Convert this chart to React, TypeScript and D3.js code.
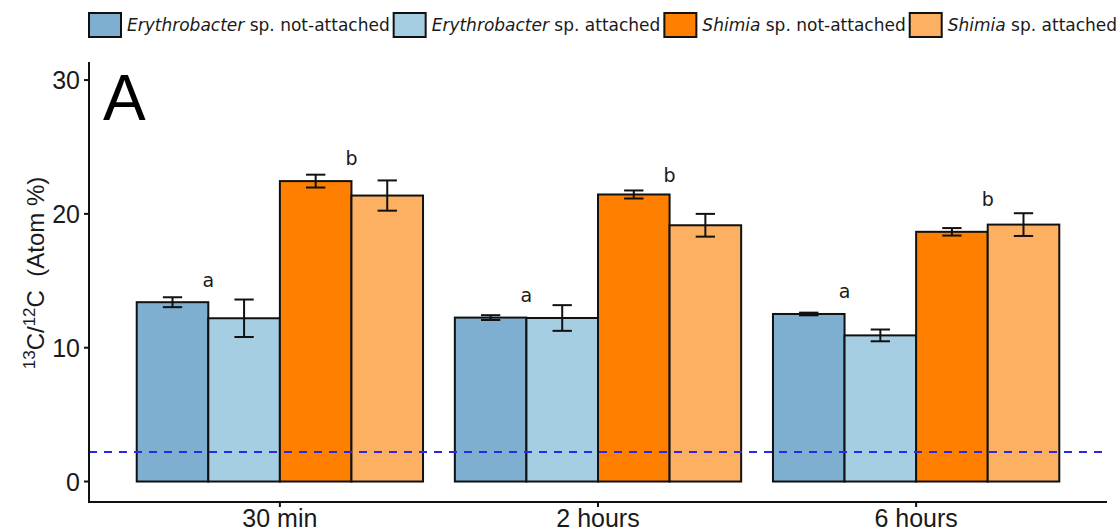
import React from "react";
import * as d3 from "d3";

// Incubation time points (x categories)
const timepoints = ["30 min", "2 hours", "6 hours"];

// Series: genus (italic) + attachment state
const seriesGenus = ["Erythrobacter", "Erythrobacter", "Shimia", "Shimia"];
const seriesState = ["not-attached", "attached", "not-attached", "attached"];
const seriesColors = ["#7FAFD0", "#A6CEE3", "#FF7F00", "#FDB062"];

// 13C/12C atom % means and standard deviations per time point
const eryNotMean = [13.4, 12.25, 12.52];
const eryNotSd = [0.37, 0.18, 0.1];
const eryAttMean = [12.2, 12.22, 10.92];
const eryAttSd = [1.4, 0.96, 0.44];
const shiNotMean = [22.45, 21.45, 18.66];
const shiNotSd = [0.48, 0.3, 0.28];
const shiAttMean = [21.37, 19.15, 19.2];
const shiAttSd = [1.13, 0.85, 0.85];

// Significance letters and the height (atom %) they sit at
const letterA = [14.55, 13.45, 13.7];
const letterB = [23.65, 22.35, 20.6];

// Natural-abundance reference level
const referenceLevel = 2.2;

const yTicks = [0, 10, 20, 30];

const means = [eryNotMean, eryAttMean, shiNotMean, shiAttMean];
const sds = [eryNotSd, eryAttSd, shiNotSd, shiAttSd];

const W = 1120;
const H = 531;
const left = 89;
const right = 1107;
const top = 62;
const bottom = 502;

const sans = "'Liberation Sans', Arial, sans-serif";
const verd = "'DejaVu Sans', Verdana, sans-serif";
const legendSize = 17;

export default function App() {
  const x = d3
    .scaleBand<string>()
    .domain(timepoints)
    .range([left, right])
    .paddingInner(0.1)
    .paddingOuter(0.15);
  const xs = d3
    .scaleBand<number>()
    .domain([0, 1, 2, 3])
    .range([0, x.bandwidth()])
    .padding(0);
  const y = d3.scaleLinear().domain([-1.53, 31.35]).range([bottom, top]);
  const bw = xs.bandwidth();
  const capHalf = bw * 0.135;

  // legend layout from measured text widths
  const canvas = typeof document !== "undefined" ? document.createElement("canvas") : null;
  const ctx = canvas ? canvas.getContext("2d") : null;
  const measure = (txt: string, italic: boolean) => {
    if (!ctx) return txt.length * 9;
    ctx.font = `${italic ? "italic " : ""}${legendSize}px 'DejaVu Sans'`;
    return ctx.measureText(txt).width;
  };
  const legendItems: { bx: number; tx: number; i: number }[] = [];
  let cx = 89;
  seriesGenus.forEach((g, i) => {
    const bx = cx;
    const tx = bx + 32 + 6;
    const wTxt = measure(g, true) + measure(` sp. ${seriesState[i]}`, false);
    legendItems.push({ bx, tx, i });
    cx = tx + wTxt + 4;
  });

  return (
    <svg
      width={W}
      height={H}
      style={{ position: "absolute", left: 0, top: 0, background: "#fff" }}
    >
      {/* legend */}
      {legendItems.map(({ bx, tx, i }) => (
        <g key={`lg${i}`}>
          <rect x={bx} y={13} width={32} height={24} fill={seriesColors[i]} stroke="#111" strokeWidth={2} />
          <text x={tx} y={31} fontFamily={verd} fontSize={legendSize} fill="#1a1a1a">
            <tspan fontStyle="italic">{seriesGenus[i]}</tspan>
            <tspan>{` sp. ${seriesState[i]}`}</tspan>
          </text>
        </g>
      ))}

      {/* bars */}
      {timepoints.map((t, ti) =>
        means.map((m, si) => (
          <rect
            key={`b${ti}-${si}`}
            x={(x(t) as number) + (xs(si) as number)}
            y={y(m[ti])}
            width={bw}
            height={y(0) - y(m[ti])}
            fill={seriesColors[si]}
            stroke="#111"
            strokeWidth={2}
          />
        ))
      )}

      {/* reference level */}
      <line
        x1={left}
        x2={right - 2}
        y1={y(referenceLevel)}
        y2={y(referenceLevel)}
        stroke="#2A2AE6"
        strokeWidth={2}
        strokeDasharray="8,7"
      />

      {/* error bars */}
      {timepoints.map((t, ti) =>
        means.map((m, si) => {
          const c = (x(t) as number) + (xs(si) as number) + bw / 2;
          const lo = y(m[ti] - sds[si][ti]);
          const hi = y(m[ti] + sds[si][ti]);
          return (
            <g key={`e${ti}-${si}`} stroke="#111" strokeWidth={2}>
              <line x1={c} x2={c} y1={lo} y2={hi} />
              <line x1={c - capHalf} x2={c + capHalf} y1={lo} y2={lo} />
              <line x1={c - capHalf} x2={c + capHalf} y1={hi} y2={hi} />
            </g>
          );
        })
      )}

      {/* significance letters */}
      {timepoints.map((t, ti) => (
        <g key={`l${ti}`} fontFamily={verd} fontSize={19} fill="#1a1a1a" textAnchor="middle">
          <text x={(x(t) as number) + (xs(1) as number)} y={y(letterA[ti])}>a</text>
          <text x={(x(t) as number) + (xs(3) as number)} y={y(letterB[ti])}>b</text>
        </g>
      ))}

      {/* axes */}
      <line x1={left} x2={left} y1={top} y2={bottom + 1} stroke="#111" strokeWidth={2} />
      <line x1={left - 1} x2={right} y1={bottom} y2={bottom} stroke="#111" strokeWidth={2} />
      {yTicks.map((v) => (
        <g key={`yt${v}`}>
          <line x1={left - 5} x2={left} y1={y(v)} y2={y(v)} stroke="#111" strokeWidth={2} />
          <text
            x={left - 9}
            y={y(v)}
            dy="0.36em"
            textAnchor="end"
            fontFamily={sans}
            fontSize={25}
            fill="#1a1a1a"
          >
            {v}
          </text>
        </g>
      ))}
      {timepoints.map((t) => {
        const c = (x(t) as number) + x.bandwidth() / 2;
        return (
          <g key={`xt${t}`}>
            <line x1={c} x2={c} y1={bottom} y2={bottom + 5} stroke="#111" strokeWidth={2} />
            <text x={c} y={527} textAnchor="middle" fontFamily={sans} fontSize={25} fill="#1a1a1a">
              {t}
            </text>
          </g>
        );
      })}

      {/* y axis title */}
      <text
        transform="translate(44,273) rotate(-90)"
        textAnchor="middle"
        fontFamily={sans}
        fontSize={24}
        fill="#1a1a1a"
      >
        <tspan fontSize={17} dy={-9}>13</tspan>
        <tspan dy={9}>C/</tspan>
        <tspan fontSize={17} dy={-9}>12</tspan>
        <tspan dy={9}>C</tspan>
        <tspan>{"\u00a0\u00a0(Atom %)"}</tspan>
      </text>

      {/* panel tag */}
      <text x={103} y={120} fontFamily={sans} fontSize={64} fill="#000">
        A
      </text>
    </svg>
  );
}
